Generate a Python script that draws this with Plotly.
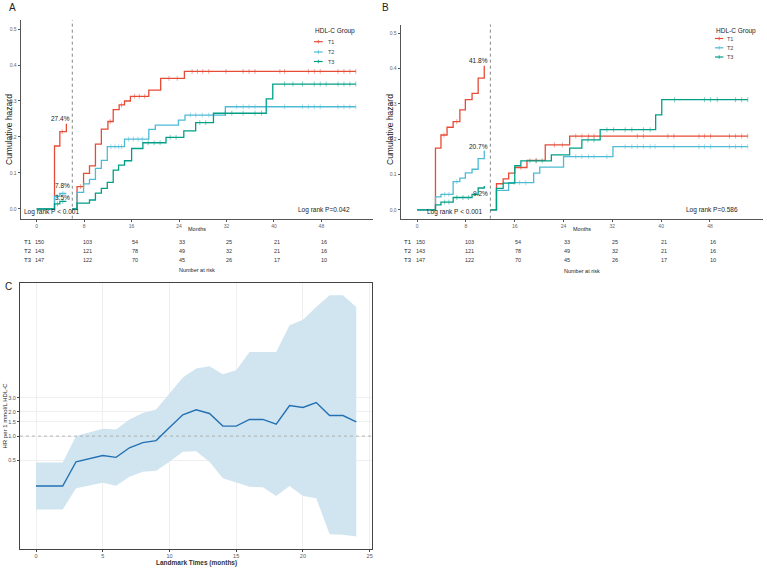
import plotly.graph_objects as go

FONT = "Arial, Liberation Sans, sans-serif"
groups = ["T1", "T2", "T3"]
colors = {"T1": "#E64B35", "T2": "#4DBBD5", "T3": "#00A087"}

# ---------------- Panel A (landmark 6 months) ----------------
A_landmark = 6
A_pre_end = 5.0
A_pre_t = {"T1": [0, 3.0, 3.9, 5.0], "T2": [0, 3.0, 3.9], "T3": [0, 3.0, 3.9]}
A_pre_h = {"T1": [0, 0.175, 0.215, 0.237], "T2": [0, 0.035, 0.043], "T3": [0, 0.014, 0.021]}
A_pre_c = {"T1": [4.3], "T2": [3.4, 4.4], "T3": [3.5, 4.4]}
A_post_end = 53.8
A_post_t = {
    "T1": [6, 6.8, 7.9, 8.9, 9.9, 10.9, 12.0, 12.9, 13.9, 14.8, 15.8, 18.9, 20.9, 24.9],
    "T2": [6, 6.8, 7.9, 8.9, 9.9, 10.9, 11.9, 14.8, 18.9, 20.0, 23.9, 25.0, 31.8],
    "T3": [6, 6.8, 8.9, 9.9, 10.9, 11.9, 12.9, 13.8, 14.8, 16.0, 17.9, 21.8, 24.8, 26.8, 29.8, 38.7, 39.8],
}
A_post_h = {
    "T1": [0, 0.062, 0.099, 0.12, 0.18, 0.222, 0.243, 0.276, 0.289, 0.30, 0.313, 0.33, 0.363, 0.382],
    "T2": [0, 0.046, 0.07, 0.082, 0.113, 0.135, 0.173, 0.194, 0.221, 0.233, 0.247, 0.261, 0.284],
    "T3": [0, 0.016, 0.025, 0.044, 0.057, 0.074, 0.108, 0.122, 0.134, 0.168, 0.184, 0.199, 0.217, 0.24, 0.266, 0.306, 0.347],
}
A_post_c = {
    "T1": [7.4, 12.4, 14.3, 16.5, 17.3, 18.2, 22.3, 23.7, 26.2, 27.1, 28.0, 29.0, 31.9, 34.8, 35.8, 36.8,
           41.0, 41.8, 45.8, 46.8, 47.8, 50.8, 51.8, 52.8, 53.8],
    "T2": [12.5, 13.2, 13.8, 14.3, 15.5, 16.3, 17.1, 17.8, 25.9, 26.8, 27.9, 29.0, 33.7, 34.8, 35.8, 36.8,
           41.8, 44.8, 45.8, 46.8, 47.8, 50.8, 51.8, 52.8, 53.8],
    "T3": [18.8, 19.8, 20.8, 22.5, 23.5, 27.5, 28.5, 31.8, 32.9, 34.8, 36.8, 37.9, 41.8, 43.2, 44.8, 46.8,
           47.8, 48.8, 50.8, 51.8, 52.8, 53.8],
}
A_lab_text = {"T1": "27.4%", "T2": "7.8%", "T3": "3.5%"}
A_lab_y = {"T1": 0.252, "T2": 0.065, "T3": 0.0325}
A_p_left = "Log rank P < 0.001"
A_p_right = "Log rank P=0.042"

# ---------------- Panel B (landmark 12 months) ----------------
B_landmark = 12
B_pre_end = 11.1
B_pre_t = {
    "T1": [0, 3.0, 3.9, 4.9, 5.9, 7.0, 7.9, 9.0, 10.0, 11.0],
    "T2": [0, 3.0, 3.9, 5.9, 7.0, 7.9, 9.0, 10.0, 11.0],
    "T3": [0, 3.0, 3.9, 5.9, 9.0, 10.0, 11.0],
}
B_pre_h = {
    "T1": [0, 0.175, 0.212, 0.234, 0.25, 0.283, 0.312, 0.33, 0.373, 0.406],
    "T2": [0, 0.037, 0.044, 0.08, 0.09, 0.105, 0.115, 0.145, 0.166],
    "T3": [0, 0.014, 0.022, 0.035, 0.044, 0.062, 0.066],
}
B_pre_c = {"T1": [4.4, 6.5], "T2": [4.5, 5.2, 6.5], "T3": [4.5, 5.2, 6.5, 7.5, 8.4]}
B_post_end = 54.2
B_post_t = {
    "T1": [12, 13.0, 14.1, 15.0, 16.0, 18.0, 21.0, 25.0],
    "T2": [12, 13.0, 15.0, 19.1, 20.1, 24.0, 32.1],
    "T3": [12, 13.0, 14.1, 16.0, 17.0, 22.0, 25.0, 27.0, 30.0, 39.1, 40.1],
}
B_post_h = {
    "T1": [0, 0.074, 0.088, 0.104, 0.12, 0.14, 0.184, 0.209],
    "T2": [0, 0.055, 0.077, 0.104, 0.121, 0.151, 0.179],
    "T3": [0, 0.061, 0.076, 0.125, 0.139, 0.156, 0.175, 0.198, 0.227, 0.269, 0.312],
}
B_post_c = {
    "T1": [17.0, 19.5, 22.5, 23.8, 26.0, 27.0, 28.1, 29.0, 36.1, 37.1, 41.1, 42.1, 46.2, 47.1, 48.1,
           51.2, 52.2, 53.2, 54.2],
    "T2": [15.9, 16.8, 17.8, 26.0, 27.0, 28.1, 29.0, 31.1, 34.1, 35.2, 36.1, 37.1, 38.2, 39.0, 42.1,
           46.2, 47.1, 48.1, 51.2, 52.2, 53.2, 54.2],
    "T3": [18.5, 19.5, 20.5, 28.0, 29.0, 31.1, 32.2, 34.1, 35.2, 37.1, 38.2, 42.2, 47.1, 48.1, 49.2,
           52.2, 53.2, 54.2],
}
B_lab_text = {"T1": "41.8%", "T2": "20.7%", "T3": "9.2%"}
B_lab_y = {"T1": 0.423, "T2": 0.179, "T3": 0.047}
B_p_left = "Log rank P < 0.001"
B_p_right = "Log rank P=0.586"

# ---------------- Risk table (same in A and B) ----------------
risk_times = [0, 8, 16, 24, 32, 40, 48]
risk = {
    "T1": [150, 103, 54, 33, 25, 21, 16],
    "T2": [143, 121, 78, 49, 32, 21, 16],
    "T3": [147, 122, 70, 45, 26, 17, 10],
}
km_xticks = [0, 8, 16, 24, 32, 40, 48]
km_yticks = [0.0, 0.1, 0.2, 0.3, 0.4, 0.5]

# ---------------- Panel C ----------------
C_times = list(range(25))
C_hr = [0.24, 0.24, 0.24, 0.48, 0.53, 0.575, 0.545, 0.716, 0.83, 0.88, 1.28, 1.84, 2.12,
        1.91, 1.33, 1.33, 1.61, 1.61, 1.41, 2.4, 2.27, 2.61, 1.8, 1.8, 1.5]
C_up = [0.47, 0.47, 0.47, 1.0, 1.12, 1.23, 1.21, 1.61, 1.94, 2.14, 3.38, 5.34, 6.9,
        7.37, 5.87, 6.58, 11.1, 11.1, 11.1, 23.7, 27.9, 40.0, 55.9, 55.9, 40.0]
C_lo = [0.123, 0.123, 0.123, 0.225, 0.242, 0.264, 0.242, 0.313, 0.361, 0.372, 0.48, 0.64, 0.65,
        0.48, 0.299, 0.267, 0.235, 0.231, 0.18, 0.24, 0.18, 0.169, 0.0605, 0.0595, 0.0565]
C_yticks = [0.5, 1.0, 1.5, 2.0, 3.0]
C_xticks = [0, 5, 10, 15, 20, 25]

W, H = 767, 568


def px_x(p):
    return p / W


def px_y(p):
    return 1 - p / H


def step_points(times, haz, end, cens):
    pts = [(t, h, 0) for t, h in zip(times, haz)]
    pts.append((end, haz[-1], 0))
    for c in cens:
        idx = max(i for i, t in enumerate(times) if t <= c)
        pts.append((c, haz[idx], 1))
    pts.sort(key=lambda p: (p[0], p[2]))
    return [p[0] for p in pts], [p[1] for p in pts], [3.5 if p[2] else 0 for p in pts]


fig = go.Figure()


def add_km(xa, ya, pre_t, pre_h, pre_end, pre_c, post_t, post_h, post_end, post_c):
    for g in groups:
        for tt, hh, ee, cc in [(pre_t[g], pre_h[g], pre_end, pre_c[g]),
                               (post_t[g], post_h[g], post_end, post_c[g])]:
            x, y, s = step_points(tt, hh, ee, cc)
            fig.add_trace(go.Scatter(
                x=x, y=y, mode="lines+markers", xaxis=xa, yaxis=ya,
                line=dict(shape="hv", width=1.3, color=colors[g]),
                marker=dict(symbol="line-ns", size=s, line=dict(width=0.7, color=colors[g])),
                showlegend=False, hoverinfo="skip"))


add_km("x", "y", A_pre_t, A_pre_h, A_pre_end, A_pre_c, A_post_t, A_post_h, A_post_end, A_post_c)
add_km("x2", "y2", B_pre_t, B_pre_h, B_pre_end, B_pre_c, B_post_t, B_post_h, B_post_end, B_post_c)

# Panel C ribbon + line
fig.add_trace(go.Scatter(x=C_times, y=C_lo, mode="lines", line=dict(width=0, color="#d1e5f0"),
                         xaxis="x3", yaxis="y3", showlegend=False, hoverinfo="skip"))
fig.add_trace(go.Scatter(x=C_times, y=C_up, mode="lines", line=dict(width=0, color="#d1e5f0"),
                         fill="tonexty", fillcolor="#d1e5f0",
                         xaxis="x3", yaxis="y3", showlegend=False, hoverinfo="skip"))
fig.add_trace(go.Scatter(x=[-1.2, 25.2], y=[1, 1], mode="lines",
                         line=dict(width=0.7, color="#9a9a9a", dash="dot"),
                         xaxis="x3", yaxis="y3", showlegend=False, hoverinfo="skip"))
fig.add_trace(go.Scatter(x=C_times, y=C_hr, mode="lines", line=dict(width=1.4, color="#2471b2"),
                         xaxis="x3", yaxis="y3", showlegend=False, hoverinfo="skip"))

km_axis_x = dict(range=[-2.7, 56.7], tickvals=km_xticks, showline=True, linecolor="#555", linewidth=1.2,
                 ticks="outside", ticklen=2, tickcolor="#555", showgrid=False, zeroline=False,
                 tickfont=dict(size=5, color="#666", family=FONT))
km_axis_y = dict(tickvals=km_yticks, ticktext=[f"{v:.1f}" for v in km_yticks], showline=True,
                 linecolor="#555", linewidth=1.2, ticks="outside", ticklen=2, tickcolor="#555",
                 showgrid=False, zeroline=False, tickfont=dict(size=5, color="#666", family=FONT))

layout = dict(
    width=W, height=H, margin=dict(l=0, r=0, t=0, b=0), paper_bgcolor="white", plot_bgcolor="white",
    font=dict(family=FONT, color="#222"), showlegend=False,
    xaxis=dict(km_axis_x, domain=[px_x(20.7), px_x(373)], anchor="y"),
    yaxis=dict(km_axis_y, domain=[px_y(218.7), px_y(20)], range=[-0.027, 0.525], anchor="x"),
    xaxis2=dict(km_axis_x, domain=[px_x(400.7), px_x(763)], anchor="y2"),
    yaxis2=dict(km_axis_y, domain=[px_y(218.7), px_y(24.5)], range=[-0.025, 0.525], anchor="x2"),
    xaxis3=dict(domain=[px_x(20), px_x(372.3)], range=[-1.2, 25.2], tickvals=C_xticks, anchor="y3",
                showline=True, mirror=True, linecolor="#444", linewidth=1, ticks="outside", ticklen=2,
                tickcolor="#444", showgrid=True, gridcolor="#efefef", gridwidth=0.6, zeroline=False,
                tickfont=dict(size=5.5, color="#555", family=FONT)),
    yaxis3=dict(domain=[px_y(548.7), px_y(283.3)], type="log", range=[-1.398, 1.897], anchor="x3",
                tickvals=C_yticks, ticktext=[f"{v:.1f}" for v in C_yticks],
                showline=True, mirror=True, linecolor="#444", linewidth=1, ticks="outside", ticklen=2,
                tickcolor="#444", showgrid=True, gridcolor="#efefef", gridwidth=0.6, zeroline=False,
                tickfont=dict(size=5.5, color="#555", family=FONT)),
)

shapes = []
annotations = []


def ann(text, x, y, size, xref="paper", yref="paper", xanchor="center", yanchor="middle",
        angle=0, color="#222", bold=False):
    if bold:
        text = f"<b>{text}</b>"
    annotations.append(dict(text=text, x=x, y=y, xref=xref, yref=yref, xanchor=xanchor,
                            yanchor=yanchor, textangle=angle, showarrow=False,
                            font=dict(size=size, color=color, family=FONT)))


# landmark lines
for xa, lm in [("x", A_landmark), ("x2", B_landmark)]:
    ydom = "y domain" if xa == "x" else "y2 domain"
    shapes.append(dict(type="line", xref=xa, yref=ydom, x0=lm, x1=lm, y0=0, y1=1,
                       line=dict(color="#777", width=0.9, dash="dot")))

# percent labels
for g in groups:
    ann(A_lab_text[g], A_landmark, A_lab_y[g], 6.5, "x", "y", xanchor="right")
    ann(B_lab_text[g], B_landmark, B_lab_y[g], 6.5, "x2", "y2", xanchor="right")

# log rank texts
ann(A_p_left, -2.4, -0.008, 6.5, "x", "y", xanchor="left")
ann(A_p_right, 43.7, -0.003, 6.5, "x", "y", xanchor="left")
ann(B_p_left, 1.36, -0.006, 6.5, "x2", "y2", xanchor="left")
ann(B_p_right, 43.7, 0.0, 6.5, "x2", "y2", xanchor="left")

# axis titles
ann("Cumulative hazard", px_x(9), px_y(130), 8.5, angle=-90)
ann("Cumulative hazard", px_x(390), px_y(130), 8.5, angle=-90)
ann("Months", px_x(196.8), px_y(229), 5.5)
ann("Months", px_x(582), px_y(229.3), 5.5)
ann("Number at risk", px_x(197), px_y(270), 5.5)
ann("Number at risk", px_x(582), px_y(270.7), 5.5)

# risk tables
row_y = {"T1": 241.5, "T2": 250.7, "T3": 260}
for g in groups:
    ann(g, px_x(28), px_y(row_y[g]), 6)
    ann(g, px_x(408), px_y(row_y[g]), 6)
    for t, n in zip(risk_times, risk[g]):
        ann(str(n), t + 0.5, px_y(row_y[g]), 5.5, "x", "paper", color="#333")
        ann(str(n), t + 0.5, px_y(row_y[g]), 5.5, "x2", "paper", color="#333")

# legends
for (tx, ty, sx0, sx1, txt_x, ys) in [
    (313.3, 31, 314, 322.7, 325.7, [41.7, 52, 61.5]),
    (714, 31.3, 715, 723.3, 725, [38.5, 47.8, 57]),
]:
    ann("HDL-C Group", px_x(tx), px_y(ty), 6.5, xanchor="left")
    for g, yy in zip(groups, ys):
        shapes.append(dict(type="line", xref="paper", yref="paper", x0=px_x(sx0), x1=px_x(sx1),
                           y0=px_y(yy), y1=px_y(yy), line=dict(color=colors[g], width=1.2)))
        cx = (sx0 + sx1) / 2
        shapes.append(dict(type="line", xref="paper", yref="paper", x0=px_x(cx), x1=px_x(cx),
                           y0=px_y(yy - 1.8), y1=px_y(yy + 1.8), line=dict(color=colors[g], width=0.8)))
        ann(g, px_x(txt_x), px_y(yy), 5.5, xanchor="left", color="#444")

# panel letters
ann("A", px_x(12.7), px_y(7.5), 10)
ann("B", px_x(385), px_y(7.7), 10)
ann("C", px_x(8), px_y(286.5), 10)

# panel C titles
ann("HR per 1 mmol/L HDL-C", px_x(4.5), px_y(416), 6, angle=-90)
ann("Landmark Times (months)", px_x(196), px_y(562.5), 6.5, bold=True, color="#333")

layout["shapes"] = shapes
layout["annotations"] = annotations
fig.update_layout(**layout)
fig.write_html("out.html")
